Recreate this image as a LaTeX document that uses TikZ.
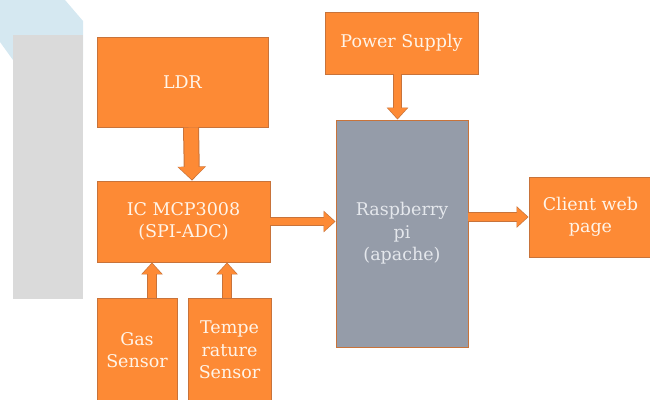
\documentclass[tikz,border=0pt]{standalone}
\usepackage{fontspec}
\setmainfont{DejaVu Serif}
\usetikzlibrary{arrows.meta}
\definecolor{boxfill}{HTML}{FD8A35}
\definecolor{boxedge}{HTML}{C8733A}
\definecolor{pifill}{HTML}{959CA9}
\definecolor{boxtext}{HTML}{FFF4E8}
\definecolor{pitext}{HTML}{E4E7EC}
\definecolor{panel}{HTML}{DADADA}
\definecolor{sky}{HTML}{D5E8F1}
\tikzset{
  block/.style={draw=boxedge, fill=boxfill, line width=0.9pt, text=boxtext,
    align=center, inner sep=0pt, font=\fontsize{17.5}{22.5}\selectfont},
  fatarrow/.style={draw=boxedge, line width=9.5pt, -{Triangle[width=21pt,length=12pt]},
    postaction={draw=boxfill, line width=7.5pt, -{Triangle[width=18.5pt,length=10.5pt]}, shorten >=1.1pt}},
  widearrow/.style={draw=boxedge, line width=16pt, -{Triangle[width=28pt,length=14pt]},
    postaction={draw=boxfill, line width=14pt, -{Triangle[width=25.5pt,length=12.5pt]}, shorten >=1.1pt}}
}
\begin{document}
\begin{tikzpicture}[x=1pt,y=-1pt]
\useasboundingbox (0,0) rectangle (650,399);
% background
\fill[sky] (0,0) -- (65,0) -- (83,21) -- (83,60) -- (13,60) -- (0,42) -- cycle;
\fill[panel] (13,35) rectangle (83,299);
% blocks
\node[block, minimum width=171pt, minimum height=90pt] (ldr) at (182.5,82) {LDR};
\node[block, minimum width=173pt, minimum height=81pt] (adc) at (183.5,221.5) {IC MCP3008\\(SPI-ADC)};
\node[block, minimum width=80pt, minimum height=104pt] (gas) at (137,350) {Gas\\Sensor};
\node[block, minimum width=83pt, minimum height=104pt] (temp) at (229.5,350) {Tempe\\rature\\Sensor};
\node[block, minimum width=153pt, minimum height=62pt] (power) at (401.5,43) {Power Supply};
\node[block, fill=pifill, text=pitext, minimum width=132pt, minimum height=227pt] (rpi) at (402,233.5) {Raspberry\\pi\\(apache)};
\node[block, minimum width=123pt, minimum height=80pt] (client) at (590.5,217) {Client web\\page};
% arrows
\draw[widearrow] ([xshift=8.5pt]ldr.south) -- ([xshift=8.5pt]adc.north);
\draw[fatarrow] ([xshift=15pt]gas.north) -- ([xshift=15pt]gas.north |- adc.south);
\draw[fatarrow] ([xshift=-2.5pt]temp.north) -- ([xshift=-2.5pt]temp.north |- adc.south);
\draw[fatarrow] (adc.east) -- (adc.east -| rpi.west);
\draw[fatarrow] ([xshift=-4pt]power.south) -- ([xshift=-4pt]power.south |- rpi.north);
\draw[fatarrow] (client.west -| rpi.east) -- (client.west);
\end{tikzpicture}
\end{document}
